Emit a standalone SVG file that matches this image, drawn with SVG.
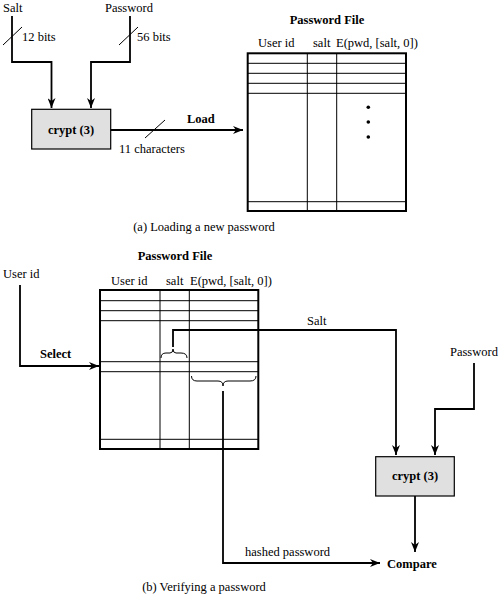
<svg xmlns="http://www.w3.org/2000/svg" width="500" height="597" viewBox="0 0 500 597" font-family="'Liberation Serif', 'Times New Roman', serif">
<defs>
<marker id="ah" viewBox="0 0 10 8" refX="10" refY="4" markerWidth="10" markerHeight="8" markerUnits="userSpaceOnUse" orient="auto">
<path d="M0,0 L10,4 L0,8 L3,4 Z" fill="#000"/>
</marker>
</defs>
<style>
text{font-family:'Liberation Serif','Times New Roman',serif;font-size:12.5px;fill:#000}
.b{font-weight:bold}
.m{text-anchor:middle}
.c{fill:none;stroke:#000;stroke-width:1.8}
.a{marker-end:url(#ah)}
.tick{stroke:#000;stroke-width:1}
.box{fill:#e0e0e0;stroke:#000;stroke-width:1.2}
.outer{fill:none;stroke:#000;stroke-width:2}
.in{stroke:#000;stroke-width:1;fill:none}
.brace{fill:none;stroke:#000;stroke-width:1}
</style>
<rect width="500" height="597" fill="#fff"/>

<g id="password-file-a">
<text x="327" y="24" class="b m">Password File</text>
<text x="258" y="47">User id</text>
<text x="313" y="47">salt</text>
<text x="336" y="47">E(pwd, [salt, 0])</text>
<rect class="outer" x="247.7" y="53.3" width="158.3" height="157.7"/>
<path class="in" d="M307.3,53.3 V211 M336.7,53.3 V211 M247.7,63.3 H406 M247.7,73.3 H406 M247.7,83.3 H406 M247.7,93.3 H406 M247.7,201.7 H406"/>
<circle cx="368.3" cy="107.3" r="1.8"/>
<circle cx="368.3" cy="122" r="1.8"/>
<circle cx="368.3" cy="137" r="1.8"/>
</g>

<g id="password-file-b">
<text x="175" y="260" class="b m">Password File</text>
<text x="111" y="285">User id</text>
<text x="166" y="285">salt</text>
<text x="190" y="285">E(pwd, [salt, 0])</text>
<rect class="outer" x="100" y="290" width="158.3" height="159"/>
<path class="in" d="M160,290 V449 M189.3,290 V449 M100,300.7 H258.3 M100,310.7 H258.3 M100,320.7 H258.3 M100,361.7 H258.3 M100,371.7 H258.3 M100,439.3 H258.3"/>
<path class="brace" d="M161,358 Q161,353 166,353 L170,353 Q173,353 173,349 Q173,353 176,353 L181,353 Q187,353 187,358"/>
<path class="brace" d="M191.5,376 Q191.5,381 197,381 L218,381 Q223,381 223,386 Q223,381 228,381 L250,381 Q256,381 256,376"/>
</g>

<g id="crypt-a">
<rect class="box" x="31.7" y="109.3" width="79" height="39.7"/>
<text x="71" y="134" class="b m">crypt (3)</text>
</g>

<g id="crypt-b">
<rect class="box" x="375.7" y="456.7" width="78.6" height="39.3"/>
<text x="415" y="480" class="b m">crypt (3)</text>
</g>

<g id="connectors">
<path class="c a" d="M12,16 V62 H51.5 V108"/>
<path class="c a" d="M130,16 V62 H91 V108"/>
<path class="c a" d="M110.5,130 H243"/>
<line class="tick" x1="3" y1="45" x2="22" y2="27"/>
<line class="tick" x1="119" y1="45" x2="138" y2="27"/>
<line class="tick" x1="145" y1="138" x2="165" y2="120"/>
<path class="c a" d="M20,285 V366 H99"/>
<path class="c a" d="M173,347 V330 H396 V455"/>
<path class="c a" d="M474,363 V409 H435 V455"/>
<path class="c a" d="M415,496 V552"/>
<path class="c a" d="M223,391 V563 H380"/>
</g>

<g id="labels-a">
<text x="3" y="12">Salt</text>
<text x="105" y="12">Password</text>
<text x="22" y="41">12 bits</text>
<text x="137" y="41">56 bits</text>
<text x="187" y="123" class="b">Load</text>
<text x="119" y="153">11 characters</text>
<text x="204" y="231" class="m">(a) Loading a new password</text>
</g>

<g id="labels-b">
<text x="3" y="278">User id</text>
<text x="40" y="358" class="b">Select</text>
<text x="307" y="325">Salt</text>
<text x="450" y="356">Password</text>
<text x="245" y="556">hashed password</text>
<text x="387" y="568" class="b">Compare</text>
<text x="204" y="591" class="m">(b) Verifying a password</text>
</g>
</svg>
